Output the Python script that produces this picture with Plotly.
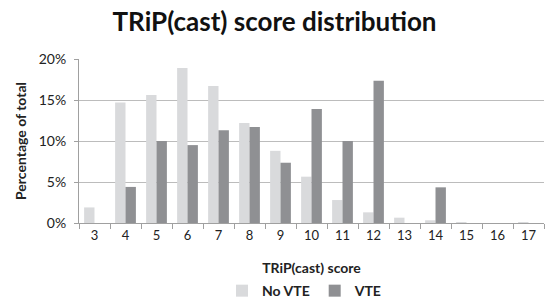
import plotly.graph_objects as go

categories = ["3", "4", "5", "6", "7", "8", "9", "10", "11", "12", "13", "14", "15", "16", "17"]
no_vte = [1.9, 14.7, 15.6, 18.9, 16.7, 12.2, 8.8, 5.65, 2.8, 1.3, 0.65, 0.33, 0.05, 0.0, 0.05]
vte = [0.0, 4.4, 10.0, 9.5, 11.3, 11.7, 7.35, 13.9, 10.0, 17.35, 0.0, 4.35, 0.0, 0.0, 0.0]
y_ticks = [0, 5, 10, 15, 20]
y_tick_labels = ["0%", "5%", "10%", "15%", "20%"]

FONT = "Lato"

fig = go.Figure()
fig.add_trace(go.Bar(x=categories, y=no_vte, name="<b>No VTE</b>",
                     marker=dict(color="#d9dadc", line=dict(width=0))))
fig.add_trace(go.Bar(x=categories, y=vte, name="<b>VTE</b>",
                     marker=dict(color="#8f9093", line=dict(width=0))))

fig.update_layout(
    width=549, height=301,
    margin=dict(l=79, r=5, t=59, b=78, autoexpand=False),
    paper_bgcolor="white", plot_bgcolor="white",
    barmode="group", bargap=0.33, bargroupgap=0,
    font=dict(family=FONT, size=13, color="#222222"),
    title=dict(text="<b>TRiP(cast) score distribution</b>", x=0.5, xanchor="center",
               y=0.927, yanchor="middle", font=dict(family=FONT, size=26, color="#111111")),
    showlegend=True,
    legend=dict(orientation="h", x=0.485, xanchor="center", y=-0.415, yanchor="middle",
                font=dict(family=FONT, size=14, color="#222222"), itemwidth=30,
                traceorder="normal"),
    xaxis=dict(type="category", showline=True, linecolor="#a0a0a0", linewidth=1,
               ticks="outside", tickson="boundaries", ticklen=5, tickcolor="#a0a0a0",
               showgrid=False, automargin=False,
               title=dict(text="<b>TRiP(cast) score</b>", font=dict(family=FONT, size=14), standoff=21),
               tickfont=dict(family=FONT, size=13)),
    yaxis=dict(range=[0, 20], tickvals=y_ticks, ticktext=y_tick_labels,
               showgrid=True, gridcolor="#bcbcbc", gridwidth=1,
               showline=True, linecolor="#a0a0a0", linewidth=1,
               ticks="outside", ticklen=4, tickcolor="#a0a0a0",
               zeroline=False, automargin=False, ticklabelstandoff=5,
               title=dict(text="<b>Percentage of total</b>", font=dict(family=FONT, size=14), standoff=8),
               tickfont=dict(family=FONT, size=14)),
)

fig.write_html("out.html", config={"displayModeBar": False},
               post_script="document.body.style.margin='0';")
